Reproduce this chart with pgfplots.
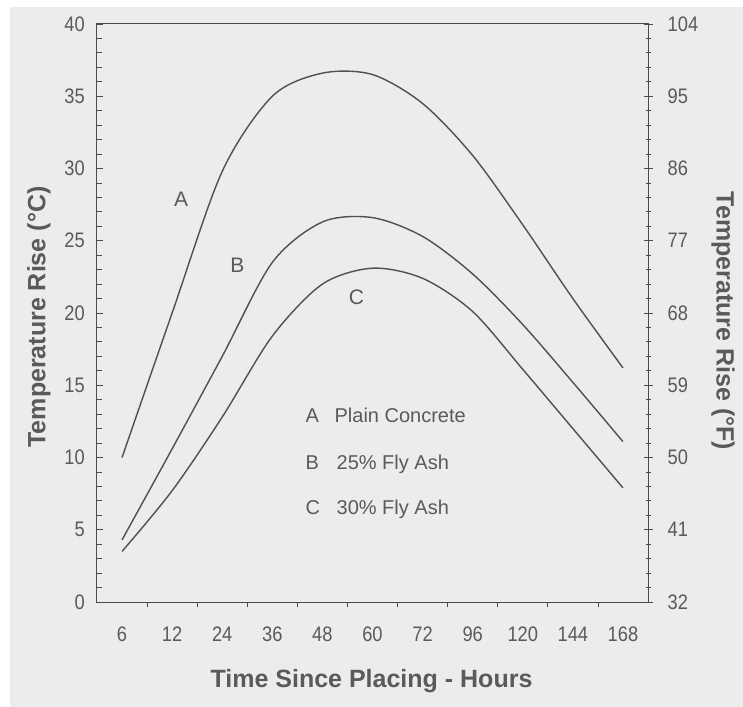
\documentclass[border=0pt]{standalone}
\usepackage{fontspec}
\setmainfont{Liberation Sans}
\newfontfamily\narrowfont[FakeStretch=0.87]{Liberation Sans}
\usepackage{pgfplots}
\pgfplotsset{compat=1.18}
\usetikzlibrary{backgrounds}
\definecolor{bg}{RGB}{236,236,236}
\definecolor{ink}{RGB}{90,90,90}
\definecolor{axisc}{RGB}{75,75,75}
\definecolor{curve}{RGB}{80,80,80}

\begin{document}
\begin{tikzpicture}
\path[use as bounding box] (-97bp,-105bp) rectangle (646bp,602bp);
\begin{axis}[
  at={(0,0)}, anchor=south west,
  scale only axis, width=551bp, height=578bp,
  xmin=-0.5, xmax=10.5, ymin=0, ymax=40,
  clip=false,
  xtick={0,...,10},
  xticklabels={6,12,24,36,48,60,72,96,120,144,168},
  major x tick style={draw=none},
  minor xtick={0.5,1.5,...,9.5},
  minor x tick style={yshift=-5bp},
  xtick pos=left, ytick pos=left,
  ytick={0,5,...,40}, minor y tick num=4,
  tick align=inside, major tick length=6bp, minor tick length=5bp,
  axis line style={axisc, line width=1bp},
  every tick/.style={axisc, line width=0.8bp},
  tick label style={font=\narrowfont\fontsize{21bp}{21bp}\selectfont, text=ink, inner sep=0pt},
  /pgf/number format/assume math mode=true,
  yticklabel style={anchor=east, xshift=-12bp},
  xticklabel style={anchor=north, yshift=-25bp},
]
\addplot[curve, line width=1.4bp, smooth] coordinates {
 (0,10.0) (1,20.0) (2,29.8) (3,35.0) (4,36.6) (5,36.5) (6,34.5) (7,30.9) (8,26.1) (9,21.0) (10,16.2)};
\addplot[curve, line width=1.4bp, smooth] coordinates {
 (0,4.3) (1,10.6) (2,17.0) (3,23.5) (4,26.3) (5,26.6) (6,25.3) (7,22.7) (8,19.2) (9,15.2) (10,11.1)};
\addplot[curve, line width=1.4bp, smooth] coordinates {
 (0,3.5) (1,7.7) (2,12.8) (3,18.4) (4,22.0) (5,23.1) (6,22.4) (7,20.1) (8,16.1) (9,12.0) (10,7.9)};

\node[anchor=base, inner sep=0pt, text=ink, font=\fontsize{21bp}{21bp}\selectfont] at (axis cs:1.18,27.37) {A};
\node[anchor=base, inner sep=0pt, text=ink, font=\fontsize{21bp}{21bp}\selectfont] at (axis cs:2.3,22.8) {B};
\node[anchor=base, inner sep=0pt, text=ink, font=\fontsize{21bp}{21bp}\selectfont] at (axis cs:4.68,20.6) {C};

\begin{scope}[every node/.style={anchor=base west, inner sep=0pt, text=ink, font=\fontsize{20bp}{20bp}\selectfont}]
\node at (axis cs:3.66,12.39) {A};
\node at (axis cs:4.24,12.39) {Plain Concrete};
\node at (axis cs:3.66,9.20) {B};
\node at (axis cs:4.28,9.20) {25\% Fly Ash};
\node at (axis cs:3.66,6.09) {C};
\node at (axis cs:4.28,6.09) {30\% Fly Ash};
\end{scope}

\node[rotate=90, text=ink, font=\bfseries\fontsize{25bp}{25bp}\selectfont] at (axis cs:-1.66,19.72) {Temperature Rise (°C)};
\node[rotate=-90, text=ink, font=\bfseries\fontsize{25bp}{25bp}\selectfont] at (axis cs:12.0,19.45) {Temperature Rise (°F)};
\node[anchor=base, inner sep=0pt, text=ink, font=\bfseries\fontsize{25bp}{25bp}\selectfont] at (axis cs:4.98,-5.95) {Time Since Placing - Hours};
\end{axis}

\begin{axis}[
  at={(0,0)}, anchor=south west,
  scale only axis, width=551bp, height=578bp,
  xmin=-0.5, xmax=10.5, ymin=32, ymax=104,
  axis x line=none, axis y line*=right,
  ytick={32,41,...,104}, minor y tick num=4,
  tick align=center, major tick length=9bp, minor tick length=5bp,
  axis line style={axisc, line width=1bp},
  every tick/.style={axisc, line width=0.8bp},
  tick label style={font=\narrowfont\fontsize{21bp}{21bp}\selectfont, text=ink, inner sep=0pt},
  /pgf/number format/assume math mode=true,
  yticklabel style={anchor=west, xshift=15bp},
]
\end{axis}

\begin{scope}[on background layer]
\fill[white] (-97bp,-105bp) rectangle (646bp,602bp);
\fill[bg] (-87bp,-105bp) rectangle (646bp,595bp);
\end{scope}
\end{tikzpicture}
\end{document}
